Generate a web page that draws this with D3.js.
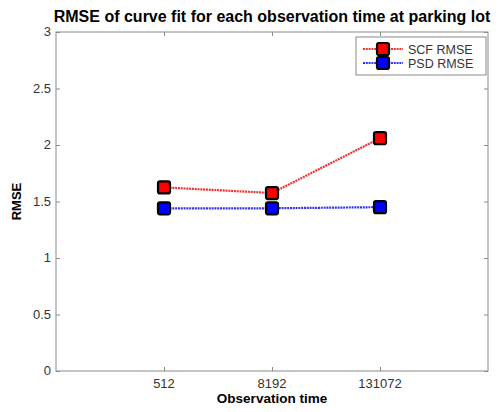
<!DOCTYPE html>
<html>
<head>
    <meta charset="utf-8">
    <title>RMSE of curve fit</title>
    <script src="https://cdnjs.cloudflare.com/ajax/libs/d3/7.8.5/d3.min.js"></script>
    <style>
        body { margin: 0; background: #fff; }
        text { font-family: Arial, "Liberation Sans", sans-serif; }
    </style>
</head>
<body>
<script>
    var categories = ["512", "8192", "131072"];
    var scfValues = [1.625, 1.575, 2.06];
    var psdValues = [1.44, 1.44, 1.45];
    var yTicks = [0, 0.5, 1, 1.5, 2, 2.5, 3];
    var series = [
        { name: "SCF RMSE", values: scfValues, color: "#ff0000", line: "#ee3333" },
        { name: "PSD RMSE", values: psdValues, color: "#0000ff", line: "#3333ee" }
    ];

    var W = 500, H = 412;
    var pLeft = 56, pRight = 488, pTop = 32, pBottom = 371;
    var axisColor = "#8a8a8a", textColor = "#333";

    var svg = d3.select("body").append("svg")
        .attr("width", W).attr("height", H);

    var x = d3.scaleLinear().domain([0, categories.length + 1]).range([pLeft, pRight]);
    var y = d3.scaleLinear().domain([0, 3]).range([pBottom, pTop]);

    function greyTicks(g) {
        g.select(".domain").remove();
        g.selectAll("line").attr("stroke", axisColor);
    }

    // plot box
    svg.append("rect")
        .attr("x", pLeft).attr("y", pTop)
        .attr("width", pRight - pLeft).attr("height", pBottom - pTop)
        .attr("fill", "none").attr("stroke", axisColor).attr("stroke-width", 1);

    // y ticks, inward on both sides
    svg.append("g")
        .attr("transform", "translate(" + pLeft + ",0)")
        .call(d3.axisRight(y).tickValues(yTicks).tickSize(4).tickFormat(""))
        .call(greyTicks);
    svg.append("g")
        .attr("transform", "translate(" + pRight + ",0)")
        .call(d3.axisLeft(y).tickValues(yTicks).tickSize(4).tickFormat(""))
        .call(greyTicks);

    svg.selectAll(".ylab").data(yTicks).enter().append("text")
        .attr("class", "ylab")
        .attr("x", pLeft - 5).attr("y", function(d) { return y(d) + 4; })
        .attr("text-anchor", "end").attr("font-size", 13).attr("fill", textColor)
        .text(function(d) { return d; });

    // x ticks (bottom and top)
    var xIdx = d3.range(1, categories.length + 1);
    svg.append("g")
        .attr("transform", "translate(0," + pBottom + ")")
        .call(d3.axisTop(x).tickValues(xIdx).tickSize(4).tickFormat(""))
        .call(greyTicks);
    svg.append("g")
        .attr("transform", "translate(0," + pTop + ")")
        .call(d3.axisBottom(x).tickValues(xIdx).tickSize(4).tickFormat(""))
        .call(greyTicks);

    svg.selectAll(".xlab").data(categories).enter().append("text")
        .attr("class", "xlab")
        .attr("x", function(d, i) { return x(i + 1); }).attr("y", pBottom + 17)
        .attr("text-anchor", "middle").attr("font-size", 13).attr("fill", textColor)
        .text(function(d) { return d; });

    // titles
    svg.append("text")
        .attr("x", 272).attr("y", 22)
        .attr("text-anchor", "middle").attr("font-size", 16).attr("font-weight", "bold")
        .text("RMSE of curve fit for each observation time at parking lot");
    svg.append("text")
        .attr("x", (pLeft + pRight) / 2).attr("y", pBottom + 32)
        .attr("text-anchor", "middle").attr("font-size", 13.5).attr("font-weight", "bold")
        .text("Observation time");
    svg.append("text")
        .attr("transform", "translate(21," + ((pTop + pBottom) / 2) + ") rotate(-90)")
        .attr("text-anchor", "middle").attr("font-size", 13).attr("font-weight", "bold")
        .text("RMSE");

    var line = d3.line()
        .x(function(d, i) { return x(i + 1); })
        .y(function(d) { return y(d); });

    function marker(g, cx, cy, color) {
        g.append("rect")
            .attr("x", cx - 6).attr("y", cy - 6)
            .attr("width", 12).attr("height", 12).attr("rx", 2)
            .attr("fill", color).attr("stroke", "#000").attr("stroke-width", 2.2);
    }

    series.forEach(function(s) {
        svg.append("path")
            .datum(s.values)
            .attr("d", line)
            .attr("fill", "none").attr("stroke", s.line)
            .attr("stroke-width", 2.2).attr("stroke-dasharray", "2,0.8");
        s.values.forEach(function(v, i) { marker(svg, x(i + 1), y(v), s.color); });
    });

    // legend
    var lg = svg.append("g");
    lg.append("rect")
        .attr("x", 356).attr("y", 37).attr("width", 130).attr("height", 38)
        .attr("fill", "#fff").attr("stroke", axisColor).attr("stroke-width", 1);
    series.forEach(function(s, i) {
        var ly = 49 + i * 14;
        lg.append("line")
            .attr("x1", 363).attr("x2", 403).attr("y1", ly).attr("y2", ly)
            .attr("stroke", s.line).attr("stroke-width", 2.2).attr("stroke-dasharray", "2,0.8");
        marker(lg, 383, ly, s.color);
        lg.append("text")
            .attr("x", 408).attr("y", ly + 4.5).attr("font-size", 12.5).attr("fill", textColor)
            .text(s.name);
    });
</script>
</body>
</html>
